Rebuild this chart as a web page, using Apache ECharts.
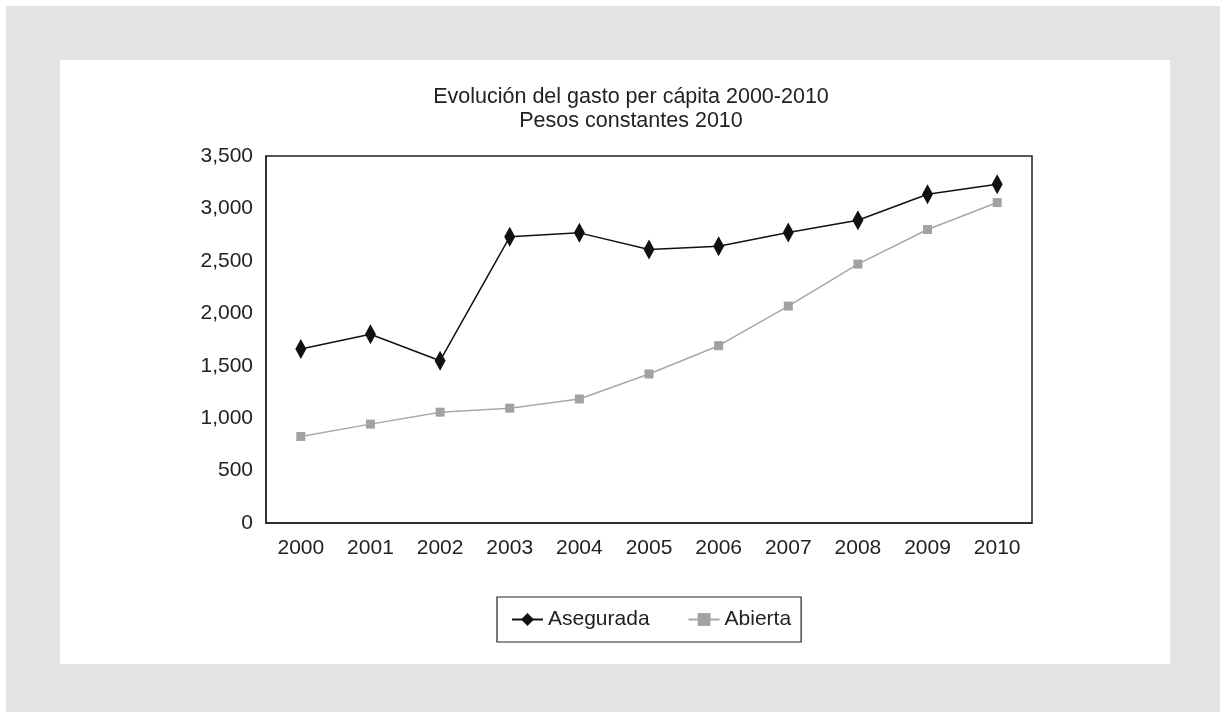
<!DOCTYPE html>
<html>
<head>
<meta charset="utf-8">
<script src="https://cdn.jsdelivr.net/npm/echarts@6/dist/echarts.min.js"></script>
<style>
html,body{margin:0;padding:0;background:#ffffff;}
#outer{position:absolute;left:6px;top:6px;width:1214px;height:706px;background:#e2e3e4;}
#inner{position:absolute;left:60px;top:60px;width:1110px;height:604px;background:#ffffff;}
#chart{position:absolute;left:0;top:0;width:1220px;height:712px;}
</style>
</head>
<body>
<div id="outer"></div>
<div id="inner"></div>
<div id="chart"></div>
<script>
const years = ['2000','2001','2002','2003','2004','2005','2006','2007','2008','2009','2010'];
const asegurada = [1660, 1800, 1548, 2729, 2767, 2609, 2640, 2771, 2888, 3135, 3231];
const abierta = [825, 943, 1057, 1095, 1183, 1421, 1691, 2069, 2469, 2799, 3056];
const titleLines = ['Evolución del gasto per cápita 2000-2010', 'Pesos constantes 2010'];
const seriesNames = ['Asegurada', 'Abierta'];

const font = '"Liberation Sans", Arial, Helvetica, sans-serif';
const chart = echarts.init(document.getElementById('chart'), null, {renderer: 'canvas'});
chart.setOption({
  backgroundColor: 'transparent',
  animation: false,
  title: {
    text: titleLines.join('\n'),
    left: 631,
    top: 85,
    textAlign: 'center',
    padding: 0,
    textStyle: {fontFamily: font, fontSize: 21.5, fontWeight: 'normal', color: '#222', lineHeight: 24}
  },
  legend: {
    data: seriesNames,
    left: 497,
    top: 597,
    orient: 'horizontal',
    padding: [12, 10, 12, 14],
    itemGap: 38,
    itemWidth: 31,
    itemHeight: 16,
    borderColor: '#222',
    borderWidth: 1.2,
    textStyle: {fontFamily: font, fontSize: 21, color: '#222'}
  },
  grid: {
    left: 266, top: 156, right: 188, bottom: 189,
    show: true, borderColor: '#222', borderWidth: 1.5, backgroundColor: '#fff',
    containLabel: false
  },
  xAxis: {
    type: 'category',
    data: years,
    boundaryGap: true,
    axisLine: {lineStyle: {color: '#222', width: 1.5}},
    axisTick: {show: false},
    axisLabel: {fontFamily: font, fontSize: 21, color: '#222', margin: 15}
  },
  yAxis: {
    type: 'value',
    min: 0, max: 3500, interval: 500,
    axisLine: {show: true, lineStyle: {color: '#222', width: 1.5}},
    axisTick: {show: false},
    splitLine: {show: false},
    axisLabel: {
      fontFamily: font, fontSize: 21, color: '#222', margin: 13,
      formatter: v => v.toLocaleString('en-US')
    }
  },
  series: [
    {
      name: seriesNames[0], type: 'line', data: asegurada,
      symbol: 'diamond', symbolSize: [11, 20],
      itemStyle: {color: '#111'},
      lineStyle: {color: '#111', width: 1.5}
    },
    {
      name: seriesNames[1], type: 'line', data: abierta,
      symbol: 'rect', symbolSize: 9,
      itemStyle: {color: '#a2a2a2'},
      lineStyle: {color: '#a8a8a8', width: 1.5}
    }
  ]
});
</script>
</body>
</html>
